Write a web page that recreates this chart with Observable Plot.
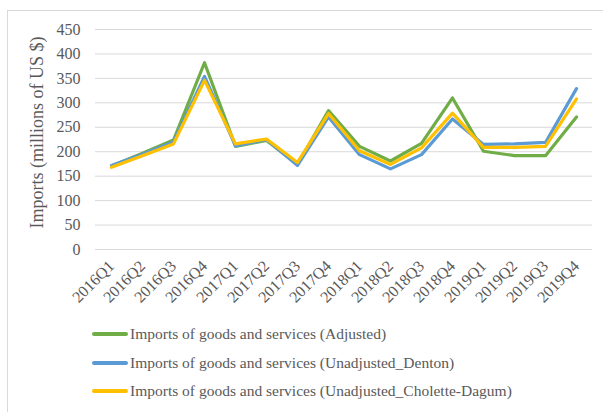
<!DOCTYPE html>
<html>
<head>
<meta charset="utf-8">
<script src="https://cdn.jsdelivr.net/npm/d3@7"></script>
<script src="https://cdn.jsdelivr.net/npm/@observablehq/plot@0.6"></script>
<style>
  html, body { margin: 0; padding: 0; background: #fff; }
  body { width: 603px; height: 412px; overflow: hidden; position: relative; font-family: 'Liberation Serif', serif; }
  #frame { position: absolute; left: 7px; top: 10px; width: 640px; height: 440px; border: 1px solid #d9d9d9; box-sizing: border-box; }
  #chart { position: absolute; left: 0; top: 0; }
  #legend { position: absolute; left: 92px; top: 320px; color: #595959; font-family: 'Liberation Serif', serif; font-size: 15.5px; }
  .row { display: flex; align-items: center; height: 28.5px; white-space: nowrap; }
  .sw { width: 36px; height: 4px; border-radius: 2px; margin-right: 2px; flex: none; }
</style>
</head>
<body>
<div id="frame"></div>
<div id="chart"></div>
<div id="legend"></div>
<script>
// Quarterly imports of goods and services, millions of US $
const quarters = ["2016Q1","2016Q2","2016Q3","2016Q4","2017Q1","2017Q2","2017Q3","2017Q4",
                  "2018Q1","2018Q2","2018Q3","2018Q4","2019Q1","2019Q2","2019Q3","2019Q4"];
const adjusted      = [171, 197, 224, 382, 211, 223, 174, 284, 211, 181, 217, 310, 201, 192, 192, 271];
const denton        = [172, 195, 220, 354, 212, 225, 172, 271, 194, 165, 194, 267, 215, 216, 219, 329];
const choletteDagum = [168, 192, 216, 346, 216, 226, 178, 278, 202, 174, 208, 279, 209, 209, 211, 308];

const seriesNames = [
  "Imports of goods and services (Adjusted)",
  "Imports of goods and services (Unadjusted_Denton)",
  "Imports of goods and services (Unadjusted_Cholette-Dagum)"
];
const seriesColors = ["#70ad47", "#5b9bd5", "#ffc000"];
const yTicks = [0, 50, 100, 150, 200, 250, 300, 350, 400, 450];
const yTitle = "Imports (millions of US $)";

const rows = [adjusted, denton, choletteDagum].flatMap((vals, s) =>
  vals.map((v, i) => ({quarter: quarters[i], value: v, series: seriesNames[s]})));

const serif = "'Liberation Serif', serif";

const chart = Plot.plot({
  width: 603,
  height: 312,
  marginLeft: 95,
  marginRight: 11,
  marginTop: 29,
  marginBottom: 63,
  style: {fontFamily: serif, color: "#595959", background: "transparent"},
  x: {type: "point", domain: quarters, padding: 0.5, label: null},
  y: {domain: [0, 450], label: null},
  color: {domain: seriesNames, range: seriesColors},
  marks: [
    Plot.gridY(yTicks, {stroke: "#d9d9d9", strokeOpacity: 1, strokeWidth: 1}),
    Plot.axisY(yTicks, {tickSize: 0, tickPadding: 15, fontSize: 16, fill: "#595959"}),
    Plot.axisX(quarters, {tickSize: 0, tickRotate: -45, tickPadding: 14, fontSize: 16, fill: "#595959"}),
    Plot.lineY(rows, {x: "quarter", y: "value", stroke: "series", z: "series", strokeWidth: 3.2, strokeLinejoin: "round", strokeLinecap: "round"}),
    Plot.text([yTitle], {frameAnchor: "left", textAnchor: "middle", dx: -58, dy: -7, rotate: -90, fontSize: 18, fill: "#595959"})
  ]
});
document.getElementById("chart").appendChild(chart);

const legend = document.getElementById("legend");
seriesNames.forEach((name, i) => {
  const row = document.createElement("div");
  row.className = "row";
  const sw = document.createElement("div");
  sw.className = "sw";
  sw.style.background = seriesColors[i];
  const label = document.createElement("span");
  label.textContent = name;
  row.appendChild(sw);
  row.appendChild(label);
  legend.appendChild(row);
});
</script>
</body>
</html>
